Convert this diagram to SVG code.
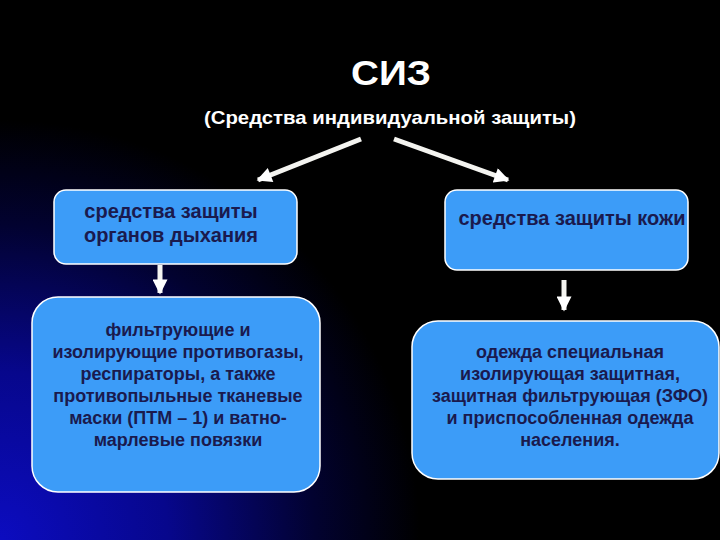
<svg xmlns="http://www.w3.org/2000/svg" width="720" height="540" viewBox="0 0 720 540">
  <defs>
    <radialGradient id="bg" cx="0" cy="540" r="420" gradientUnits="userSpaceOnUse">
      <stop offset="0" stop-color="#0c0cc0"/>
      <stop offset="0.4" stop-color="#07078c"/>
      <stop offset="0.75" stop-color="#020230"/>
      <stop offset="1" stop-color="#000000"/>
    </radialGradient>
    <marker id="head" viewBox="0 0 10 10" refX="9" refY="5" markerWidth="16" markerHeight="15" markerUnits="userSpaceOnUse" orient="auto">
      <path d="M0,0 L10,5 L0,10 Z" fill="#ffffff"/>
    </marker>
  </defs>
  <style>
    .box { fill: #3c9cf8; stroke: #ffffff; stroke-width: 1.5; }
    .lbl { font-family: "Liberation Sans", Arial, sans-serif; font-weight: bold; font-size: 18px; fill: #1a1a4e; text-anchor: middle; }
    .big { font-size: 20px; }
    .ttl { font-family: "Liberation Sans", Arial, sans-serif; font-weight: bold; fill: #ffffff; text-anchor: middle; }
    .conn { stroke: #f4f4f0; stroke-width: 5; fill: none; marker-end: url(#head); }
  </style>
  <rect width="720" height="540" fill="#000000"/>
  <rect width="720" height="540" fill="url(#bg)"/>

  <g id="title">
    <text class="ttl" x="391" y="85" font-size="35" textLength="80" lengthAdjust="spacingAndGlyphs">СИЗ</text>
    <text class="ttl" x="390" y="124" font-size="19" textLength="372" lengthAdjust="spacingAndGlyphs">(Средства индивидуальной защиты)</text>
  </g>

  <g id="connectors">
    <line class="conn" x1="361" y1="139" x2="258" y2="180"/>
    <line class="conn" x1="394" y1="139" x2="508" y2="180"/>
    <line class="conn" x1="160" y1="265" x2="160" y2="293"/>
    <line class="conn" x1="564" y1="280" x2="564" y2="310"/>
  </g>

  <g id="node-breathing">
    <rect class="box" x="54" y="190" width="243" height="74" rx="12"/>
    <text class="lbl big" x="171" y="218">средства защиты</text>
    <text class="lbl big" x="171" y="242">органов дыхания</text>
  </g>

  <g id="node-skin">
    <rect class="box" x="445" y="190" width="243" height="80" rx="12"/>
    <text class="lbl big" x="572" y="225">средства защиты кожи</text>
  </g>

  <g id="node-breathing-items">
    <rect class="box" x="32" y="297" width="288" height="195" rx="26"/>
    <text class="lbl" x="178" y="336">фильтрующие и</text>
    <text class="lbl" x="178" y="358">изолирующие противогазы,</text>
    <text class="lbl" x="178" y="380">респираторы, а также</text>
    <text class="lbl" x="178" y="402">противопыльные тканевые</text>
    <text class="lbl" x="178" y="424">маски (ПТМ – 1) и ватно-</text>
    <text class="lbl" x="178" y="446">марлевые повязки</text>
  </g>

  <g id="node-skin-items">
    <rect class="box" x="412" y="321" width="307" height="158" rx="26"/>
    <text class="lbl" x="570" y="358">одежда специальная</text>
    <text class="lbl" x="570" y="380">изолирующая защитная,</text>
    <text class="lbl" x="570" y="402">защитная фильтрующая (ЗФО)</text>
    <text class="lbl" x="570" y="424">и приспособленная одежда</text>
    <text class="lbl" x="570" y="446">населения.</text>
  </g>
</svg>
